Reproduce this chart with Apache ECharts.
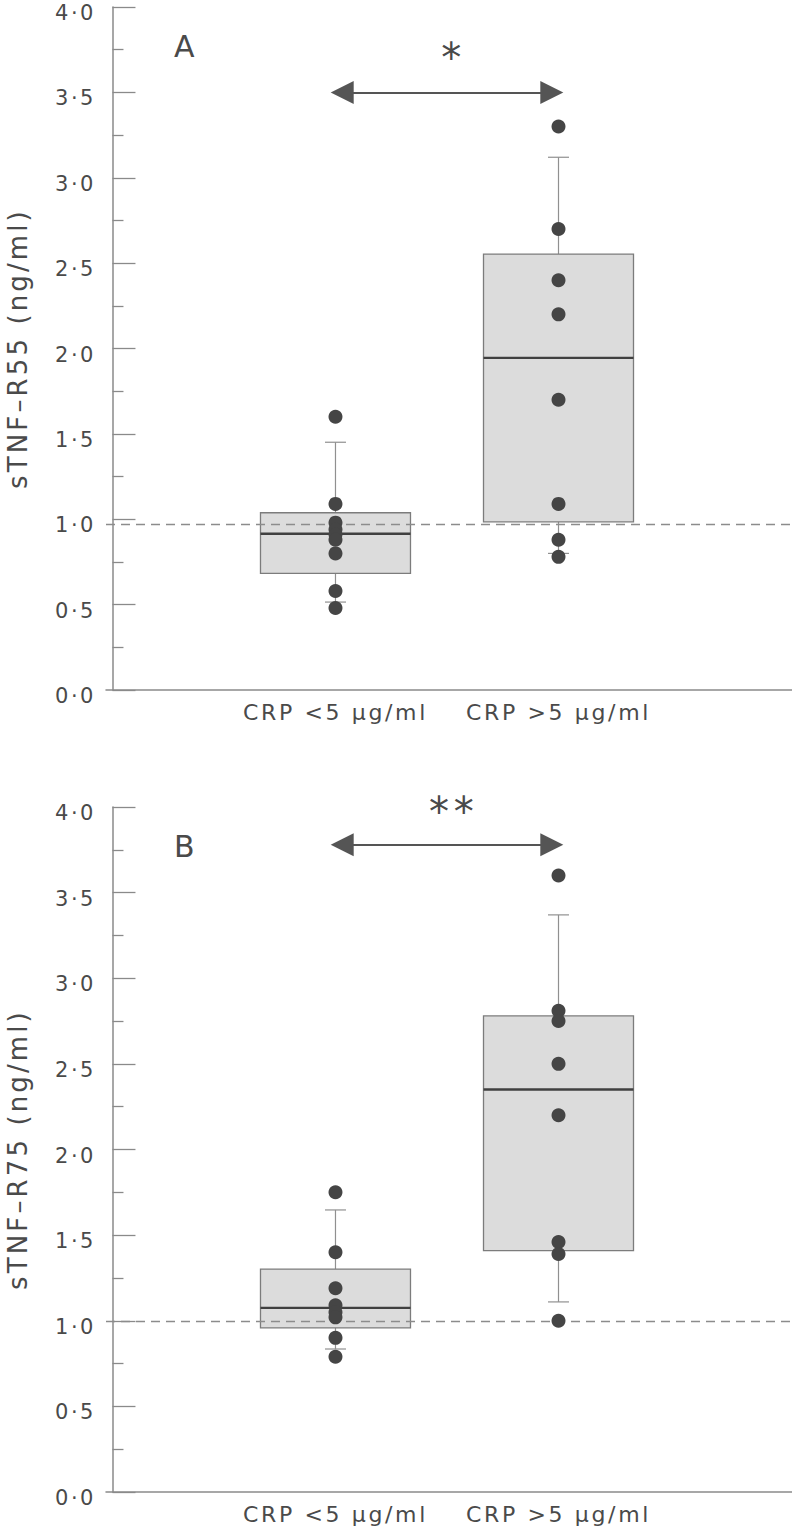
<!DOCTYPE html>
<html>
<head>
<meta charset="utf-8">
<script src="https://cdn.jsdelivr.net/npm/echarts@6/dist/echarts.min.js"></script>
<style>
  html, body { margin: 0; padding: 0; background: #fff; }
  #main { width: 792px; height: 1535px; }
  #main text { letter-spacing: 0.12em; }
</style>
</head>
<body>
<div id="main"></div>
<script>
// ---------- data ----------
const categories = ['CRP <5 µg/ml', 'CRP >5 µg/ml'];
const yTickLabels = ['0·0', '0·5', '1·0', '1·5', '2·0', '2·5', '3·0', '3·5', '4·0'];
const yNames = ['sTNF–R55 (ng/ml)', 'sTNF–R75 (ng/ml)'];
const panelLabels = ['A', 'B'];
const sigLabels = ['*', '**'];

// box stats per group: [lower whisker, Q1, median, Q3, upper whisker]
const r55Box = [[0.515, 0.683, 0.915, 1.038, 1.451], [0.80, 0.985, 1.945, 2.553, 3.12]];
const r55Points = [[1.60, 1.09, 0.98, 0.94, 0.91, 0.88, 0.80, 0.58, 0.48],
                   [3.30, 2.70, 2.40, 2.20, 1.70, 1.09, 0.88, 0.78]];
const r75Box = [[0.835, 0.958, 1.075, 1.302, 1.647], [1.11, 1.41, 2.35, 2.78, 3.37]];
const r75Points = [[1.75, 1.40, 1.19, 1.09, 1.05, 1.02, 0.90, 0.79],
                   [3.60, 2.81, 2.75, 2.50, 2.20, 1.46, 1.39, 1.00]];
const normalLevel = [0.97, 1.0];
const arrowLevel = [3.5, 3.78];
const sigLevel = [3.70, 3.97];
const panelLabelLevel = [3.77, 3.77];

// ---------- styling ----------
const FONT = "'DejaVu Sans', 'Liberation Sans', Arial, sans-serif";
const TXT = '#4a4a4a';
const AX = '#8a8a8a';
const X_MIN = -0.029, X_MAX = 3.047;
const BOX_HALF = 75, CAP_HALF = 10.5;

const panels = [
  { box: r55Box, pts: r55Points },
  { box: r75Box, pts: r75Points }
];

const grids = [
  { left: 106, top: 7, width: 686, height: 683, containLabel: false, outerBoundsMode: 'none' },
  { left: 106, top: 807, width: 686, height: 685, containLabel: false, outerBoundsMode: 'none' }
];

function renderBox(params, api) {
  const x = api.value(0);
  const pLo = api.coord([x, api.value(1)]);
  const pQ1 = api.coord([x, api.value(2)]);
  const pMed = api.coord([x, api.value(3)]);
  const pQ3 = api.coord([x, api.value(4)]);
  const pHi = api.coord([x, api.value(5)]);
  const cx = pMed[0];
  const wStyle = { stroke: '#909090', lineWidth: 1.2 };
  return {
    type: 'group',
    children: [
      { type: 'line', shape: { x1: cx, y1: pHi[1], x2: cx, y2: pQ3[1] }, style: wStyle },
      { type: 'line', shape: { x1: cx, y1: pQ1[1], x2: cx, y2: pLo[1] }, style: wStyle },
      { type: 'line', shape: { x1: cx - CAP_HALF, y1: pHi[1], x2: cx + CAP_HALF, y2: pHi[1] }, style: wStyle },
      { type: 'line', shape: { x1: cx - CAP_HALF, y1: pLo[1], x2: cx + CAP_HALF, y2: pLo[1] }, style: wStyle },
      { type: 'rect', shape: { x: cx - BOX_HALF, y: pQ3[1], width: 2 * BOX_HALF, height: pQ1[1] - pQ3[1] },
        style: { fill: '#dcdcdc', stroke: '#7c7c7c', lineWidth: 1.3 } },
      { type: 'line', shape: { x1: cx - BOX_HALF, y1: pMed[1], x2: cx + BOX_HALF, y2: pMed[1] },
        style: { stroke: '#404040', lineWidth: 2.4 } }
    ]
  };
}

const xAxes = [], yAxes = [], series = [];
panels.forEach((p, i) => {
  xAxes.push({
    type: 'value', gridIndex: i, min: X_MIN, max: X_MAX,
    axisLine: { show: true, lineStyle: { color: AX, width: 1.5 } },
    axisTick: { show: false },
    splitLine: { show: false },
    axisLabel: {
      customValues: categories.map((c, k) => k + 1),
      formatter: v => categories[Math.round(v) - 1] || '',
      fontSize: 22, color: TXT, fontFamily: FONT, margin: 11
    }
  });
  yAxes.push({
    type: 'value', gridIndex: i, min: 0, max: 4, interval: 0.5,
    name: yNames[i], nameLocation: 'middle', nameGap: 75,
    nameTextStyle: { fontSize: 26, color: TXT, fontFamily: FONT },
    axisLine: { show: true, lineStyle: { color: AX, width: 1.5 } },
    axisTick: { show: true, inside: true, length: 23, lineStyle: { color: AX, width: 1.3 } },
    minorTick: { show: true, splitNumber: 2, length: 11, lineStyle: { color: AX, width: 1.3 } },
    splitLine: { show: false },
    axisLabel: {
      formatter: v => yTickLabels[Math.round(v * 2)],
      fontSize: 21, color: TXT, fontFamily: FONT, margin: 10,
      verticalAlign: 'top', lineHeight: 12
    }
  });
  series.push({
    type: 'custom', xAxisIndex: i, yAxisIndex: i, z: 2, silent: true,
    renderItem: renderBox,
    data: p.box.map((b, k) => [k + 1].concat(b)),
    markLine: {
      silent: true, animation: false, z: 3,
      data: [
        [{ coord: [X_MIN, normalLevel[i]] }, { coord: [X_MAX, normalLevel[i]] }]
      ],
      symbol: 'none',
      label: { show: false },
      lineStyle: { color: '#8c8c8c', type: [9, 6], width: 1.4 }
    }
  });
  series.push({
    type: 'line', xAxisIndex: i, yAxisIndex: i, z: 4, silent: true,
    data: [], showSymbol: false,
    markLine: {
      silent: true, animation: false,
      symbol: ['triangle', 'triangle'], symbolSize: 23,
      label: { show: false },
      lineStyle: { color: '#555', type: 'solid', width: 2 },
      itemStyle: { color: '#555' },
      data: [[{ coord: [1.03, arrowLevel[i]] }, { coord: [1.97, arrowLevel[i]] }]]
    },
    markPoint: {
      silent: true, animation: false,
      symbol: 'circle', symbolSize: 0,
      itemStyle: { color: 'transparent' },
      label: { show: true, position: 'inside', formatter: d => d.name, color: TXT, fontFamily: FONT },
      data: [
        { name: panelLabels[i], coord: [0.33, panelLabelLevel[i]], label: { fontSize: 30 } },
        { name: sigLabels[i], coord: [1.53, sigLevel[i]], label: { fontSize: 40 } }
      ]
    }
  });
  series.push({
    type: 'scatter', xAxisIndex: i, yAxisIndex: i, z: 5, silent: true,
    symbolSize: 14,
    itemStyle: { color: '#454545', opacity: 1 },
    data: [].concat(...p.pts.map((arr, k) => arr.map(v => [k + 1, v])))
  });
});

const chart = echarts.init(document.getElementById('main'), null, { renderer: 'svg' });
chart.setOption({
  animation: false,
  backgroundColor: '#ffffff',
  textStyle: { fontFamily: FONT },
  grid: grids,
  xAxis: xAxes,
  yAxis: yAxes,
  series: series
});
</script>
</body>
</html>
